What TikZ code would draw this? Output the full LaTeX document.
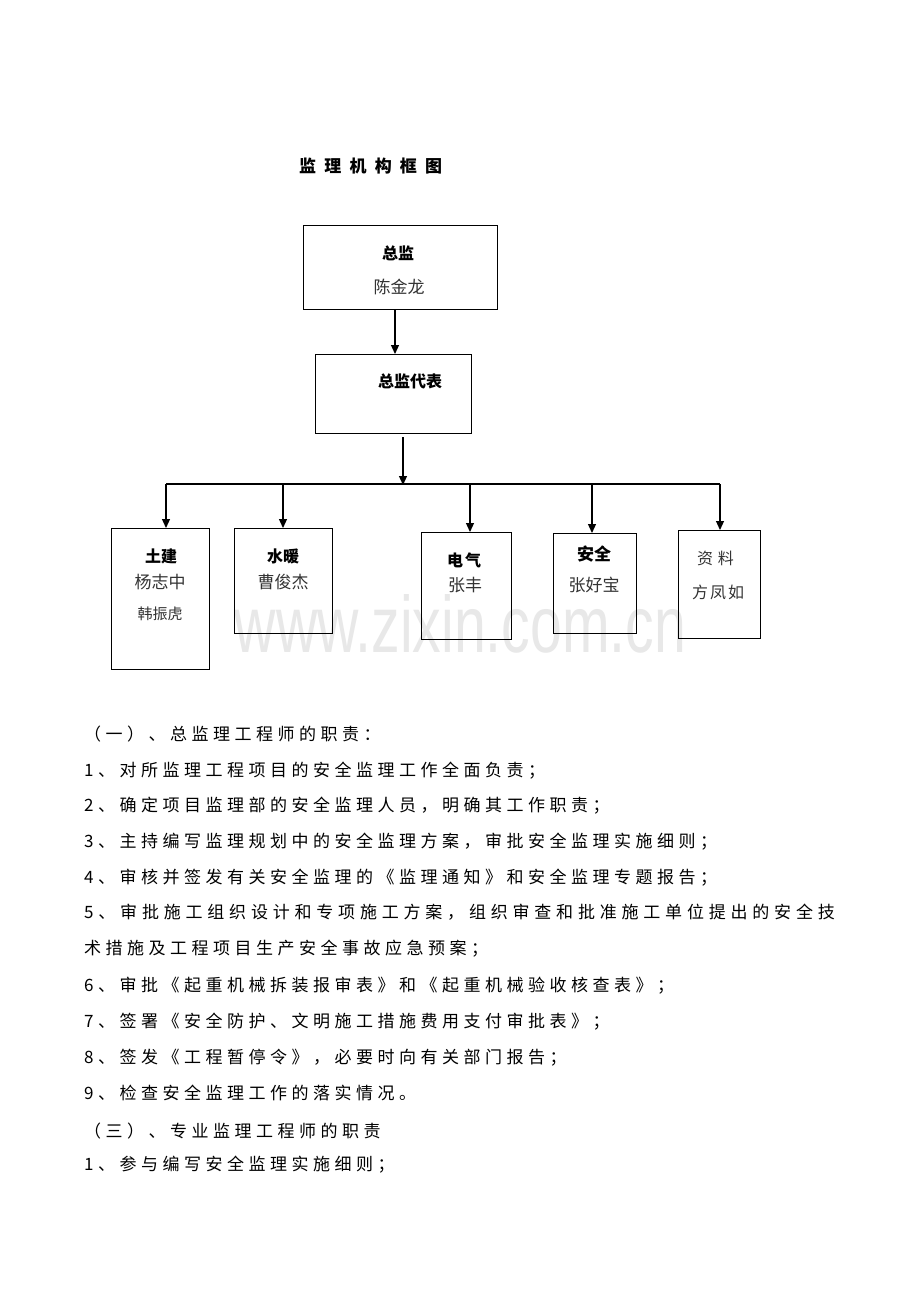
\documentclass[tikz,border=0pt]{standalone}
\usepackage{fontspec}
\setmainfont{Liberation Serif}
\newfontfamily\cjk{Noto Sans CJK SC}
\newfontfamily\wmfont{Liberation Sans}
\usetikzlibrary{arrows.meta}
\makeatletter
\newcommand\spaceout[2]{\def\so@sep{\hspace{#1}}\so@loop#2\relax}
\def\so@loop#1{\ifx\relax#1\else#1\so@sep\expandafter\so@loop\fi}
\makeatother
\tikzset{
  box/.style={draw, line width=1.2pt, inner sep=0pt, anchor=north west},
  conn/.style={line width=1.2pt},
  arr/.style={line width=1.2pt, -{Triangle[width=8pt,length=9pt]}},
  tight/.style={inner sep=0pt, text height=12.5pt, text depth=0pt},
  lab/.style={tight, font=\cjk\bfseries\fontsize{16}{18}\selectfont},
  pname/.style={tight, font=\cjk\fontsize{17}{19}\selectfont, text=black!80},
  body/.style={tight, anchor=west, font=\cjk\fontsize{17}{19}\selectfont}
}
\begin{document}
\begin{tikzpicture}[x=1pt,y=-1pt]
\useasboundingbox[fill=white] (0,0) rectangle (920,1302);
% watermark
\node[anchor=base, inner sep=0pt, text=black!9] (wm) at (460.5,652) {\wmfont\fontsize{80}{80}\selectfont\scalebox{0.715}[1]{www.zixin.com.cn}};
% title
\node[tight, anchor=west, font=\cjk\bfseries\fontsize{17}{19}\selectfont] (title) at (299,166) {\spaceout{8.2pt}{监理机构框图}};
% top boxes
\node[box, minimum width=194pt, minimum height=84pt] (zj) at (303,225) {};
\node[lab] (zjl) at (398,253) {总监};
\node[pname] (zjn) at (399,287) {陈金龙};
\node[box, minimum width=156pt, minimum height=79pt] (db) at (315,354) {};
\node[lab] (dbl) at (410,381) {总监代表};
\coordinate (a1s) at (395,309);
\coordinate (a1e) at (395,354);
\draw[arr] (a1s) -- (a1e);
\coordinate (a2s) at (403,437);
\coordinate (bus) at (403,485);
\draw[arr] (a2s) -- (bus);
% bus
\coordinate (bl) at (166,484);
\coordinate (br) at (720,484);
\draw[conn] (bl) -- (br);
% bottom boxes
\node[box, minimum width=98pt, minimum height=141pt] (tj) at (111,528) {};
\node[box, minimum width=98pt, minimum height=105pt] (sn) at (234,528) {};
\node[box, minimum width=90pt, minimum height=107pt] (dq) at (421,532) {};
\node[box, minimum width=83pt, minimum height=100pt] (aq) at (553,533) {};
\node[box, minimum width=82pt, minimum height=108pt] (zl) at (678,530) {};
% arrows down
\coordinate (t1) at (166,484); \coordinate (e1) at (166,528);
\coordinate (t2) at (283,484); \coordinate (e2) at (283,528);
\coordinate (t3) at (470,484); \coordinate (e3) at (470,532);
\coordinate (t4) at (592,484); \coordinate (e4) at (592,533);
\coordinate (t5) at (720,484); \coordinate (e5) at (720,530);
\draw[arr] (t1) -- (e1);
\draw[arr] (t2) -- (e2);
\draw[arr] (t3) -- (e3);
\draw[arr] (t4) -- (e4);
\draw[arr] (t5) -- (e5);
% box texts
\node[lab] (tjl) at (161,556) {土建};
\node[pname] (tjn1) at (160,582) {杨志中};
\node[pname, font=\cjk\fontsize{15}{17}\selectfont] (tjn2) at (160,613) {韩振虎};
\node[lab] (snl) at (283,556) {水暖};
\node[pname] (snn) at (283,582) {曹俊杰};
\node[lab] (dql) at (465,560) {\spaceout{2pt}{电气}\hspace{-2pt}};
\node[pname] (dqn) at (465,585) {张丰};
\node[lab, font=\cjk\bfseries\fontsize{17}{19}\selectfont] (aql) at (594,554) {安全};
\node[pname] (aqn) at (594,585) {张好宝};
\node[pname, font=\cjk\fontsize{16}{18}\selectfont] (zll) at (718,558) {\spaceout{5pt}{资料}\hspace{-5pt}};
\node[pname, font=\cjk\fontsize{16}{18}\selectfont] (zln) at (719,592) {\spaceout{2pt}{方凤如}\hspace{-2pt}};
% body text
\node[body] (l0) at (84,734) {\spaceout{4.5pt}{（一）、总监理工程师的职责：}};
\node[body] (l1) at (84,770) {\spaceout{4.5pt}{1、对所监理工程项目的安全监理工作全面负责；}};
\node[body] (l2) at (84,805) {\spaceout{4.5pt}{2、确定项目监理部的安全监理人员，明确其工作职责；}};
\node[body] (l3) at (84,841) {\spaceout{4.5pt}{3、主持编写监理规划中的安全监理方案，审批安全监理实施细则；}};
\node[body] (l4) at (84,877) {\spaceout{4.5pt}{4、审核并签发有关安全监理的《监理通知》和安全监理专题报告；}};
\node[body] (l5) at (84,912) {\spaceout{4.8pt}{5、审批施工组织设计和专项施工方案，组织审查和批准施工单位提出的安全技}};
\node[body] (l5b) at (84,948) {\spaceout{4.5pt}{术措施及工程项目生产安全事故应急预案；}};
\node[body] (l6) at (84,985) {\spaceout{4.5pt}{6、审批《起重机械拆装报审表》和《起重机械验收核查表》；}};
\node[body] (l7) at (84,1021) {\spaceout{4.5pt}{7、签署《安全防护、文明施工措施费用支付审批表》；}};
\node[body] (l8) at (84,1057) {\spaceout{4.5pt}{8、签发《工程暂停令》，必要时向有关部门报告；}};
\node[body] (l9) at (84,1093) {\spaceout{4.5pt}{9、检查安全监理工作的落实情况。}};
\node[body] (m0) at (84,1131) {\spaceout{4.5pt}{（三）、专业监理工程师的职责}};
\node[body] (m1) at (84,1164) {\spaceout{4.5pt}{1、参与编写安全监理实施细则；}};
\end{tikzpicture}
\end{document}
